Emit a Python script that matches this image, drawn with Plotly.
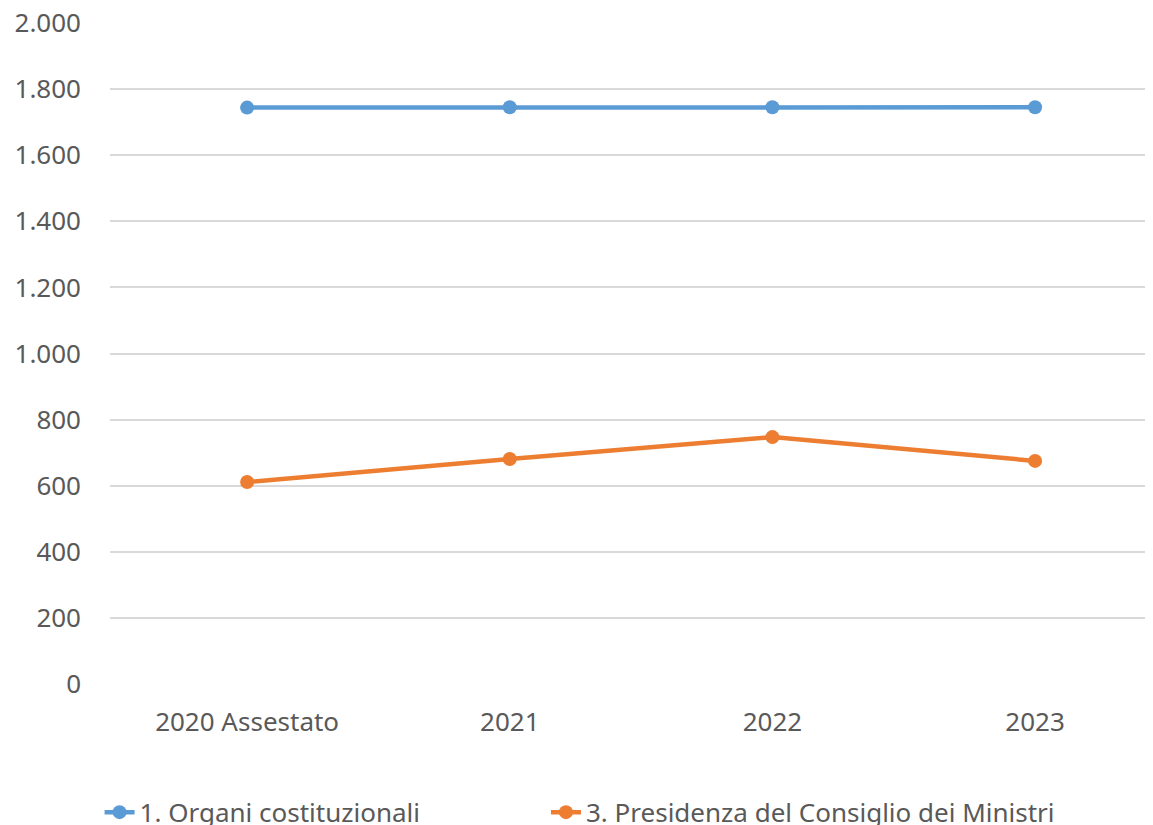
import plotly.graph_objects as go

# dati
categorie = ["2020 Assestato", "2021", "2022", "2023"]
organi_costituzionali = [1744, 1745, 1745, 1745]
presidenza_consiglio = [611, 681, 747, 675]

nome_serie_1 = "1. Organi costituzionali"
nome_serie_2 = "3. Presidenza del Consiglio dei Ministri"

font_family = "Noto Sans, sans-serif"
grigio_testo = "#595959"
dim_testo = 26


def legenda(x_pos: float) -> dict:
    return dict(
        orientation="h",
        x=x_pos,
        xanchor="left",
        y=-0.194,
        yanchor="middle",
        font=dict(family=font_family, size=dim_testo, color=grigio_testo),
        bgcolor="rgba(0,0,0,0)",
    )


fig = go.Figure()

fig.add_trace(
    go.Scatter(
        x=categorie,
        y=organi_costituzionali,
        mode="lines+markers",
        name=nome_serie_1,
        line=dict(color="#5B9BD5", width=4.5),
        marker=dict(color="#5B9BD5", size=14),
        legend="legend",
    )
)

fig.add_trace(
    go.Scatter(
        x=categorie,
        y=presidenza_consiglio,
        mode="lines+markers",
        name=nome_serie_2,
        line=dict(color="#ED7D31", width=4.5),
        marker=dict(color="#ED7D31", size=14),
        legend="legend2",
    )
)

# la pagina html ha un margine di 8px: la figura viene ridotta di conseguenza
fig.update_layout(
    width=1145,
    height=817,
    margin=dict(l=102, r=0, t=15, b=141, autoexpand=False),
    paper_bgcolor="white",
    plot_bgcolor="white",
    separators=",.",
    font=dict(family=font_family, size=dim_testo, color=grigio_testo),
    showlegend=True,
    legend=legenda(-0.01),
    legend2=legenda(0.418),
    xaxis=dict(
        type="category",
        range=[-0.522, 3.449],
        automargin=False,
        showgrid=False,
        showline=False,
        zeroline=False,
        ticks="",
        tickfont=dict(size=dim_testo, color=grigio_testo),
        ticklabelstandoff=20,
        ticklabeloverflow="allow",
    ),
    yaxis=dict(
        range=[0, 2000],
        dtick=200,
        tickformat=",d",
        automargin=False,
        showgrid=True,
        gridcolor="#D9D9D9",
        gridwidth=1.5,
        zeroline=False,
        showline=False,
        ticks="",
        tickfont=dict(size=dim_testo, color=grigio_testo),
        ticklabelstandoff=28,
        ticklabeloverflow="allow",
    ),
)

fig.write_html("out.html")
